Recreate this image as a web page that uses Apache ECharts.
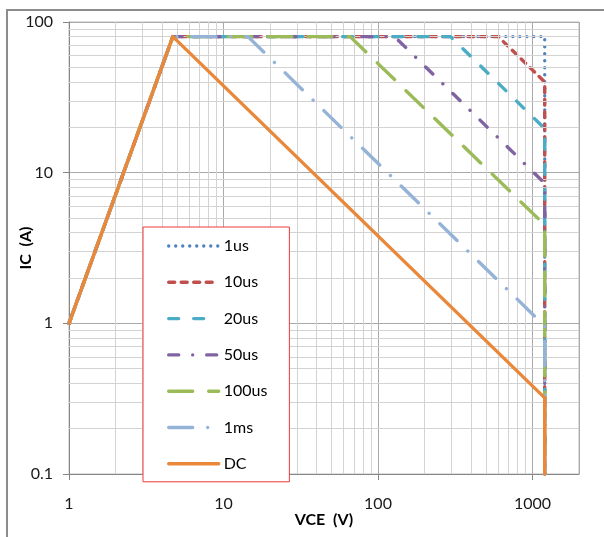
<!DOCTYPE html>
<html><head><meta charset="utf-8">
<script src="https://cdn.jsdelivr.net/npm/echarts@6/dist/echarts.min.js"></script>
<style>html,body{margin:0;padding:0;background:#fff}#c{width:604px;height:537px}</style>
</head><body><div id="c"></div><script>
// ---- data ----
const seriesNames = ['1us', '10us', '20us', '50us', '100us', '1ms', 'DC'];
const vce_1us   = [1, 4.7, 1200, 1200];
const ic_1us    = [1, 80, 80, 0.1];
const vce_10us  = [1, 4.7, 600, 1200, 1200];
const ic_10us   = [1, 80, 80, 40, 0.1];
const vce_20us  = [1, 4.7, 295, 1200, 1200];
const ic_20us   = [1, 80, 80, 19.6, 0.1];
const vce_50us  = [1, 4.7, 128, 1200, 1200];
const ic_50us   = [1, 80, 80, 8.5, 0.1];
const vce_100us = [1, 4.7, 66, 1200, 1200];
const ic_100us  = [1, 80, 80, 4.5, 0.1];
const vce_1ms   = [1, 4.7, 14.4, 1200, 1200];
const ic_1ms    = [1, 80, 80, 0.96, 0.1];
const vce_DC    = [1, 4.7, 1200, 1200];
const ic_DC     = [1, 80, 0.32, 0.1];
const xTickLabels = [1, 10, 100, 1000];
const yTickLabels = [0.1, 1, 10, 100];
const xMinorGrid = [2,3,4,5,6,7,8,9,20,30,40,50,60,70,80,90,200,300,400,500,600,700,800,900];
const yMinorGrid = [0.2,0.3,0.4,0.5,0.6,0.7,0.8,0.9,2,3,4,5,6,7,8,9,20,30,40,50,60,70,80,90];

const xs = [vce_1us, vce_10us, vce_20us, vce_50us, vce_100us, vce_1ms, vce_DC];
const ys = [ic_1us, ic_10us, ic_20us, ic_50us, ic_100us, ic_1ms, ic_DC];
const colors = ['#4F81BD', '#C0504D', '#4BACC6', '#8064A2', '#9BBB59', '#95B3D7', '#E9883A'];
const dashes = [[0.01, 7], [6, 6.5], [10, 15], [10, 14, 0.01, 14], [24, 16], [24, 15, 0.01, 15], 'solid'];
const LW = 3.4;

const FONT = 'Lato, "Open Sans", sans-serif';
const chart = echarts.init(document.getElementById('c'), null, {renderer: 'canvas'});

const series = seriesNames.map((name, k) => ({
  name, type: 'line', symbol: 'none', z: 3 + k,
  data: xs[k].map((v, i) => [v, ys[k][i]]),
  itemStyle: {color: colors[k], opacity: 0},
  lineStyle: {color: colors[k], width: LW, type: dashes[k], cap: 'round', join: 'round', opacity: 1}
}));
series.unshift({
  name: '_grid', type: 'line', data: [], z: 1, silent: true,
  markLine: {
    silent: true, symbol: 'none', label: {show: false}, animation: false,
    lineStyle: {color: '#d3d3d3', width: 1, type: 'solid'},
    data: xMinorGrid.map(v => ({xAxis: v})).concat(yMinorGrid.map(v => ({yAxis: v})))
  }
});

const fmt = list => v => {
  const n = +(+v).toPrecision(3);
  return list.indexOf(n) >= 0 ? String(n) : '';
};

chart.setOption({
  animation: false,
  backgroundColor: '#fff',
  graphic: [{type: 'rect', shape: {x: 7, y: 10, width: 900, height: 900},
    style: {fill: 'none', stroke: '#8c8c8c', lineWidth: 2}, silent: true, z: 100}],
  grid: {left: 69, top: 22, right: 25, bottom: 63, show: true, borderColor: '#bdbdbd', borderWidth: 1,
    containLabel: false, outerBoundsMode: 'none'},
  xAxis: {
    type: 'log', logBase: 10, min: 1, max: 2000,
    name: 'VCE  (V)', nameLocation: 'middle', nameGap: 38, nameMoveOverlap: false,
    nameTextStyle: {fontFamily: FONT, fontSize: 16, fontWeight: 'bold', color: '#000'},
    axisLine: {lineStyle: {color: '#868686', width: 1}},
    axisTick: {show: true, length: 6, lineStyle: {color: '#868686'}},
    axisLabel: {fontFamily: FONT, fontSize: 16, color: '#1a1a1a', margin: 22, showMaxLabel: false,
      formatter: fmt(xTickLabels)},
    splitLine: {show: true, lineStyle: {color: '#a9a9a9', width: 1}},
    minorTick: {show: false}, minorSplitLine: {show: false}
  },
  yAxis: {
    type: 'log', logBase: 10, min: 0.1, max: 100,
    name: 'IC  (A)', nameLocation: 'middle', nameGap: 35, nameRotate: 90, nameMoveOverlap: false,
    nameTextStyle: {fontFamily: FONT, fontSize: 16, fontWeight: 'bold', color: '#000'},
    axisLine: {show: true, lineStyle: {color: '#868686', width: 1}},
    axisTick: {show: true, length: 6, lineStyle: {color: '#868686'}},
    axisLabel: {fontFamily: FONT, fontSize: 16, color: '#1a1a1a', margin: 16,
      formatter: fmt(yTickLabels)},
    splitLine: {show: true, lineStyle: {color: '#a9a9a9', width: 1}},
    minorTick: {show: false}, minorSplitLine: {show: false}
  },
  legend: {
    data: seriesNames, orient: 'vertical', left: 143, top: 227,
    itemWidth: 50, itemHeight: 14, itemGap: 20.3, selectedMode: false,
    padding: [11, 22, 10, 24], borderColor: '#f03a3a', borderWidth: 1, backgroundColor: '#fff',
    itemStyle: {opacity: 0},
    lineStyle: {width: LW, cap: 'round'},
    textStyle: {fontFamily: FONT, fontSize: 16, color: '#000'}, z: 50
  },
  series
});
</script></body></html>
